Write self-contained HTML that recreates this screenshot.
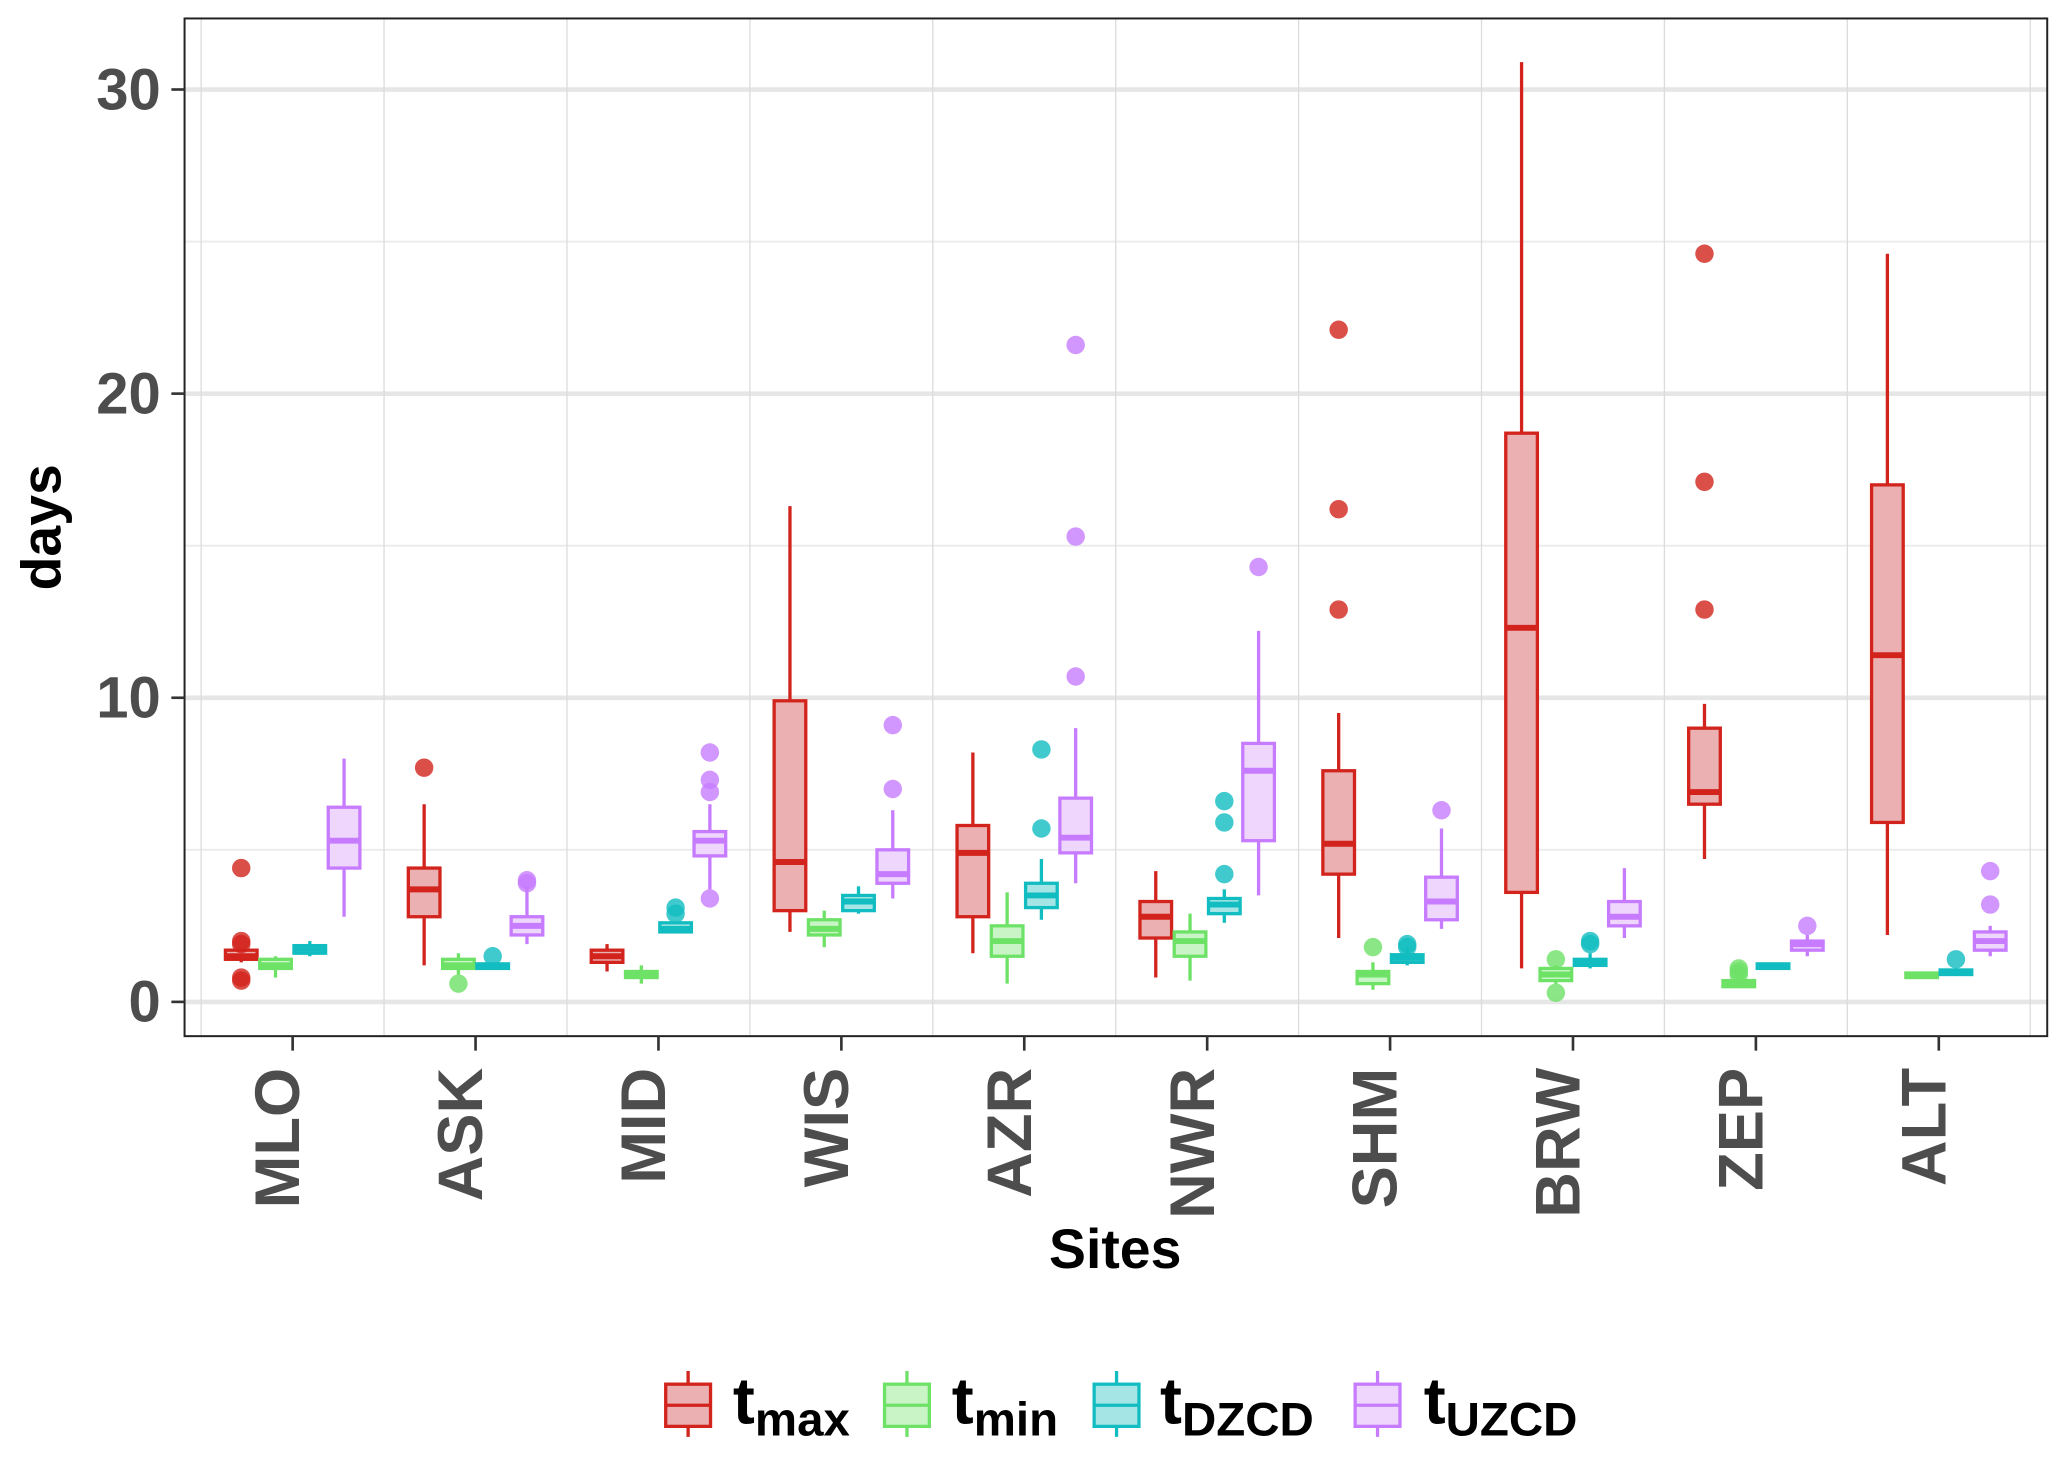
<!DOCTYPE html>
<html><head><meta charset="utf-8"><style>
html,body{margin:0;padding:0;background:#fff;}
svg{display:block;font-family:"Liberation Sans",Arial,sans-serif;}
</style></head><body>
<svg id="chart" width="2067" height="1458" viewBox="0 0 1568 1106" preserveAspectRatio="none" xmlns="http://www.w3.org/2000/svg">
<rect x="0" y="0" width="1568" height="1106" fill="#fff"/>
<g id="grid"></g>
<g id="marks"></g>
<rect x="140" y="14" width="1413" height="772" fill="none" stroke="#222" stroke-width="1.5"/>
<g id="axes"></g>
<text x="46" y="400" transform="rotate(-90 46 400)" text-anchor="middle" font-size="42" font-weight="bold" fill="#000">days</text>
<text x="846" y="962" text-anchor="middle" font-size="42" font-weight="bold" fill="#000">Sites</text>
<g id="legend"></g>
</svg>
<script>
const categories = ["MLO","ASK","MID","WIS","AZR","NWR","SHM","BRW","ZEP","ALT"];
const seriesNames = ["max","min","DZCD","UZCD"];
const yTicks = [0,10,20,30];
// each entry: [lowWhisker, q1, median, q3, highWhisker]
const tmax = [[1.3,1.4,1.5,1.7,1.7],[1.2,2.8,3.7,4.4,6.5],[1.0,1.3,1.5,1.7,1.9],[2.3,3.0,4.6,9.9,16.3],[1.6,2.8,4.9,5.8,8.2],[0.8,2.1,2.8,3.3,4.3],[2.1,4.2,5.2,7.6,9.5],[1.1,3.6,12.3,18.7,30.9],[4.7,6.5,6.9,9.0,9.8],[2.2,5.9,11.4,17.0,24.6]];
const tmin = [[0.8,1.1,1.2,1.4,1.5],[0.9,1.1,1.2,1.4,1.6],[0.6,0.8,0.9,1.0,1.2],[1.8,2.2,2.4,2.7,3.0],[0.6,1.5,2.0,2.5,3.6],[0.7,1.5,2.0,2.3,2.9],[0.4,0.6,0.9,1.0,1.3],[0.6,0.7,0.9,1.1,1.2],[0.5,0.5,0.6,0.7,1.0],[0.8,0.8,0.85,0.95,0.95]];
const tdzcd = [[1.5,1.6,1.75,1.85,2.0],[1.1,1.1,1.15,1.25,1.25],[2.3,2.3,2.4,2.6,2.6],[2.9,3.0,3.3,3.5,3.8],[2.7,3.1,3.5,3.9,4.7],[2.6,2.9,3.2,3.4,3.7],[1.2,1.3,1.45,1.55,1.8],[1.1,1.2,1.3,1.4,1.6],[1.1,1.1,1.15,1.25,1.25],[0.9,0.9,1.0,1.05,1.1]];
const tuzcd = [[2.8,4.4,5.3,6.4,8.0],[1.9,2.2,2.5,2.8,3.8],[3.7,4.8,5.3,5.6,6.5],[3.4,3.9,4.2,5.0,6.3],[3.9,4.9,5.4,6.7,9.0],[3.5,5.3,7.6,8.5,12.2],[2.4,2.7,3.3,4.1,5.7],[2.1,2.5,2.8,3.3,4.4],[1.5,1.7,1.9,2.0,2.2],[1.5,1.7,2.0,2.3,2.5]];
const tmaxOut = [[4.4,2.0,1.9,0.8,0.7],[7.7],[],[],[],[],[12.9,16.2,22.1],[],[12.9,17.1,24.6],[]];
const tminOut = [[],[0.6],[],[],[],[],[1.8],[0.3,1.4],[0.9,1.0,1.1],[]];
const tdzcdOut = [[],[1.5],[2.9,3.1],[],[5.7,8.3],[4.2,5.9,6.6],[1.8,1.9],[1.9,2.0],[],[1.4]];
const tuzcdOut = [[],[3.9,4.0],[3.4,6.9,7.3,8.2],[7.0,9.1],[10.7,15.3,21.6],[14.3],[6.3],[],[2.5],[3.2,4.3]];

const NS="http://www.w3.org/2000/svg";
const stroke=["#d2231c","#6ee167","#12bdc1","#c77cff"];
const fill=["#ebb0b1","#c9f5c6","#a6e5e6","#eed6fc"];
const allBoxes=[tmax,tmin,tdzcd,tuzcd];
const allOut=[tmaxOut,tminOut,tdzcdOut,tuzcdOut];
const yScale=v=>760-v*23.07;
const xScale=i=>222+i*138.75;
const offsets=[-39,-13,13,39];
function mk(tag,attrs,parent){const e=document.createElementNS(NS,tag);for(const k in attrs)e.setAttribute(k,attrs[k]);parent.appendChild(e);return e;}
const grid=document.getElementById('grid'),marks=document.getElementById('marks'),axes=document.getElementById('axes'),legend=document.getElementById('legend');
[5,15,25].forEach(v=>{const l=mk('line',{x1:140,x2:1553,y1:yScale(v),y2:yScale(v),stroke:'#ebebeb','stroke-width':1.5},grid);});
yTicks.forEach(v=>{const l=mk('line',{x1:140,x2:1553,y1:yScale(v),y2:yScale(v),stroke:'#e6e6e6','stroke-width':3.5},grid);});
for(let i=0;i<=categories.length;i++){const x=xScale(i)-69.4;const l=mk('line',{x1:x,x2:x,y1:14,y2:786,stroke:'#dcdcdc','stroke-width':1},grid);}
allBoxes.forEach((ser,s)=>{ser.forEach((b,i)=>{
  const cx=xScale(i)+offsets[s],w=24;
  const g=mk('g',{},marks);
  mk('line',{x1:cx,x2:cx,y1:yScale(b[0]),y2:yScale(b[4]),stroke:stroke[s],'stroke-width':2.5},g);
  mk('rect',{x:cx-w/2,y:yScale(b[3]),width:w,height:Math.max(yScale(b[1])-yScale(b[3]),1),fill:fill[s],stroke:stroke[s],'stroke-width':2.5},g);
  mk('line',{x1:cx-w/2,x2:cx+w/2,y1:yScale(b[2]),y2:yScale(b[2]),stroke:stroke[s],'stroke-width':4.5},g);
  allOut[s][i].forEach(v=>{const c=mk('circle',{cx:cx,cy:yScale(v),r:7,fill:stroke[s],'fill-opacity':0.8},g);});
});});
yTicks.forEach(v=>{const y=yScale(v);mk('line',{x1:130,x2:140,y1:y,y2:y,stroke:'#333','stroke-width':2},axes);
  const t=mk('text',{x:122,y:y+15,'text-anchor':'end','font-size':44,'font-weight':'bold',fill:'#4d4d4d'},axes);t.textContent=v;});
categories.forEach((c,i)=>{const x=xScale(i);mk('line',{x1:x,x2:x,y1:786,y2:797,stroke:'#333','stroke-width':2},axes);
  const bx=x+5;
  const t=mk('text',{x:bx,y:810,transform:`rotate(-90 ${bx} 810)`,'text-anchor':'end','font-size':48,'font-weight':'bold',fill:'#4d4d4d'},axes);t.textContent=c;});
const keyX=[504,670,829,1027],txtX=[556,722,880,1080];
seriesNames.forEach((n,s)=>{const g=mk('g',{},legend);
  const kx=keyX[s]+18;
  mk('line',{x1:kx,x2:kx,y1:1040,y2:1090,stroke:stroke[s],'stroke-width':2.5},g);
  mk('rect',{x:keyX[s]+1,y:1050,width:34,height:32,fill:fill[s],stroke:stroke[s],'stroke-width':2.5},g);
  mk('line',{x1:keyX[s]+1,x2:keyX[s]+35,y1:1066,y2:1066,stroke:stroke[s],'stroke-width':2.5},g);
  const t=mk('text',{x:txtX[s],y:1080,'font-size':50,'font-weight':'bold',fill:'#000'},g);
  t.textContent='t';const sub=mk('tspan',{'font-size':36,dy:9},t);sub.textContent=n;
});
</script>
</body></html>
